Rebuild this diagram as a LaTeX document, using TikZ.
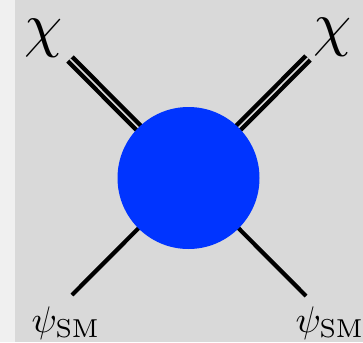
\documentclass[tikz,border=0pt]{standalone}
\usepackage{amsmath}
\usetikzlibrary{positioning, calc}

\definecolor{bggray}{RGB}{217,217,217}
\definecolor{stripgray}{RGB}{240,240,240}
\definecolor{blobblue}{RGB}{0,52,255}

\tikzset{
    dmline/.style={double=bggray, double distance=1.6pt, line width=4.4pt},
    smline/.style={line width=4.2pt},
    blob/.style={circle, fill=blobblue, minimum size=142pt, inner sep=0pt},
    biglabel/.style={inner sep=0pt, scale=6.1},
    smlabel/.style={inner sep=0pt, scale=3.7}
}

\begin{document}
\begin{tikzpicture}[x=1pt, y=-1pt]

    % page and background
    \useasboundingbox (0,0) rectangle (363,342);
    \fill[stripgray] (0,0) rectangle (15,342);
    \fill[bggray] (15,0) rectangle (363,342);

    \coordinate (vtx) at (188.5,178);

    % free ends of the legs
    \coordinate (chiinL) at (70,59);
    \coordinate (chiinR) at (308,58);
    \coordinate (smoutL) at (72,295);
    \coordinate (smoutR) at (306,296);

    \draw[dmline] (chiinL) -- (vtx);
    \draw[dmline] (chiinR) -- (vtx);
    \draw[smline] (smoutL) -- (vtx);
    \draw[smline] (smoutR) -- (vtx);

    \node[blob] (blob) at (vtx) {};

    \node[biglabel] (chiL) at (44,38) {$\chi$};
    \node[biglabel] (chiR) at (333,37) {$\chi$};
    \node[smlabel] (psiL) at (66,323) {$\psi_{\mathrm{SM}}$};
    \node[smlabel] (psiR) at (330,323) {$\psi_{\mathrm{SM}}$};

\end{tikzpicture}
\end{document}
